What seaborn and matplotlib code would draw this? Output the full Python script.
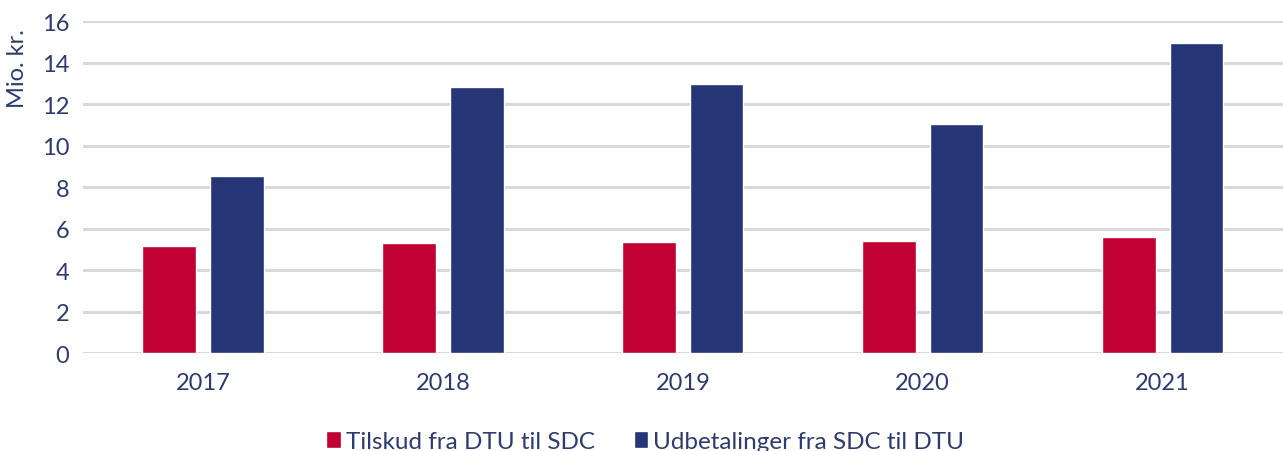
import numpy as np
import pandas as pd
import matplotlib.pyplot as plt
import seaborn as sns

# Data
years = ['2017', '2018', '2019', '2020', '2021']
tilskud = [5.15, 5.3, 5.35, 5.4, 5.6]
udbetalinger = [8.55, 12.8, 12.95, 11.05, 14.95]
series_names = ['Tilskud fra DTU til SDC', 'Udbetalinger fra SDC til DTU']

df = pd.DataFrame({
    'year': years * 2,
    'value': tilskud + udbetalinger,
    'series': [series_names[0]] * len(years) + [series_names[1]] * len(years),
})

sns.set_theme(style='white')
plt.rcParams['font.family'] = ['Lato', 'DejaVu Sans']
text_col = '#2e3b6e'

fig = plt.figure(figsize=(12.83, 4.52), dpi=100)
ax = fig.add_axes([0.0647, 0.2168, 0.935, 0.7345])

sns.barplot(data=df, x='year', y='value', hue='series',
            palette=['#c10034', '#253575'], width=0.565, gap=0.21,
            saturation=1, ax=ax, zorder=3)

ax.set_ylim(0, 16)
ax.set_xlim(-0.5, 4.5)
ax.set_yticks(range(0, 17, 2))
ax.yaxis.grid(True, color='#d9d9d9', linewidth=2.2, zorder=0)
ax.set_axisbelow(True)
sns.despine(ax=ax, left=True, bottom=True, top=True, right=True)

ax.tick_params(axis='both', length=0, labelsize=17, labelcolor=text_col)
ax.tick_params(axis='x', pad=14)
ax.tick_params(axis='y', pad=10)

ax.set_xlabel('')
ax.set_ylabel('Mio. kr.', fontsize=17, color=text_col)
ax.yaxis.set_label_coords(-0.046, 0.86)

handles, labels = ax.get_legend_handles_labels()
ax.legend_.remove()
leg = fig.legend(handles, labels, loc='lower center', ncol=2, frameon=False,
                 bbox_to_anchor=(0.503, -0.05),
                 handlelength=0.6, handleheight=0.7, handletextpad=0.2,
                 columnspacing=1.6, prop={'size': 17.5})
for t in leg.get_texts():
    t.set_color(text_col)

fig.savefig('out.png', dpi=100)
